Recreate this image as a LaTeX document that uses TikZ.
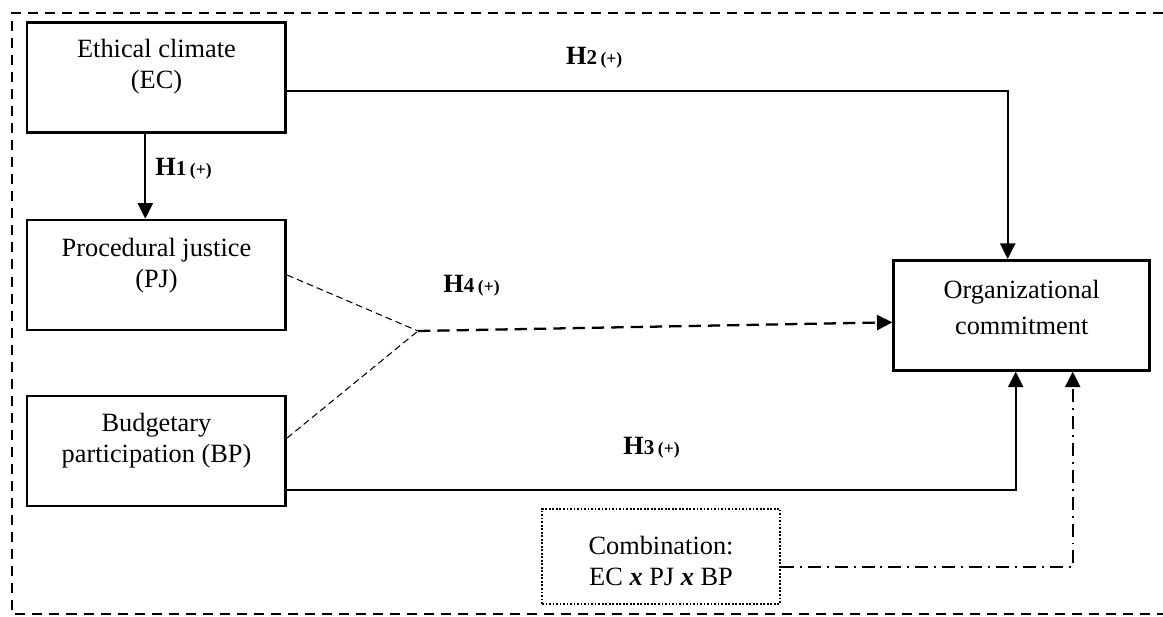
\documentclass[tikz,border=0pt]{standalone}
\usepackage{fontspec}
\setmainfont{Liberation Serif}
\usepackage{tikz}
\usetikzlibrary{calc}
\usetikzlibrary{arrows.meta}
\usetikzlibrary{positioning}
\newcommand{\hyp} [1] {{\fontsize{15}{18}\selectfont\bfseries H}{\fontsize{12}{13}\selectfont\bfseries #1\,}{\fontsize{10}{11}\selectfont\bfseries (+)}}
\tikzset{B/.style={draw=black,line width=1.5pt,minimum width=5.18cm,minimum height=2.2cm,inner sep=0pt}}
\tikzset{T/.style={align=center,anchor=north,inner sep=0pt,font=\fontsize{15}{17.8}\selectfont}}
\tikzset{L/.style={anchor=base west,inner sep=0pt}}
\tikzset{arr/.style={line width=1.3pt,-{Triangle[length=0.31cm,width=0.3cm]}}}

\begin{document}
\begin{tikzpicture}[x=0.02cm,y=-0.02cm]

\useasboundingbox (0,0) rectangle (1163,617);
\draw[line width=1.1pt,dash pattern=on 5.7pt off 4pt] (1163,13) -- (12,13) -- (12,614) -- (1163,614);

\node[B] (ec) at (156.3, 77.7) {};
\node[B] (pj) at (156.3, 275) {};
\node[B] (bp) at (156.3, 451) {};
\node[B,minimum width=5.12cm] (oc) at (1021.7, 315.3) {};
\node[B,line width=1pt,dash pattern=on 1pt off 1pt,minimum width=4.76cm,minimum height=1.9cm] (comb) at (661, 556.3) {};

\node[T] (ect) at (156.5, 39) {Ethical climate\\(EC)};
\node[T] (pjt) at (156.5, 238) {Procedural justice\\(PJ)};
\node[T] (bpt) at (156.5, 413) {Budgetary\\participation (BP)};
\node[T,font=\fontsize{15}{20.2}\selectfont] (oct) at (1021.7, 280) {Organizational\\commitment};
\node[T] (combt) at (661, 536) {Combination:\\EC \textbf{\textit{x}} PJ \textbf{\textit{x}} BP};

\node[L] (h1) at (155, 176) {\hyp{1}};
\node[L] (h2) at (565.7, 64.3) {\hyp{2}};
\node[L] (h3) at (623, 455) {\hyp{3}};
\node[L] (h4) at (443, 293) {\hyp{4}};

\coordinate (jn) at (418, 331);

\draw[arr] ($(ec.east)+(0,13)$) -| ($(oc.north)+(-14,0)$);
\draw[arr] ($(ec.south)+(-11,0)$) -- ($(pj.north)+(-11,0)$);
\draw[line width=0.6pt,dash pattern=on 3.8pt off 2.3pt] (pj.east) -- (jn);
\draw[line width=0.6pt,dash pattern=on 3.8pt off 2.3pt] ($(bp.east)+(0,-13)$) -- (jn);
\draw[arr,dash pattern=on 7pt off 4pt] (jn) -- ($(oc.west)+(0,7)$);
\draw[arr] ($(bp.east)+(0,39)$) -| ($(oc.south)+(-6,0)$);
\draw[arr,dash pattern=on 7.4pt off 3.4pt on 1.1pt off 3.4pt] ($(comb.east)+(0,11)$) -| ($(oc.south)+(51,0)$);

\end{tikzpicture}
\end{document}
